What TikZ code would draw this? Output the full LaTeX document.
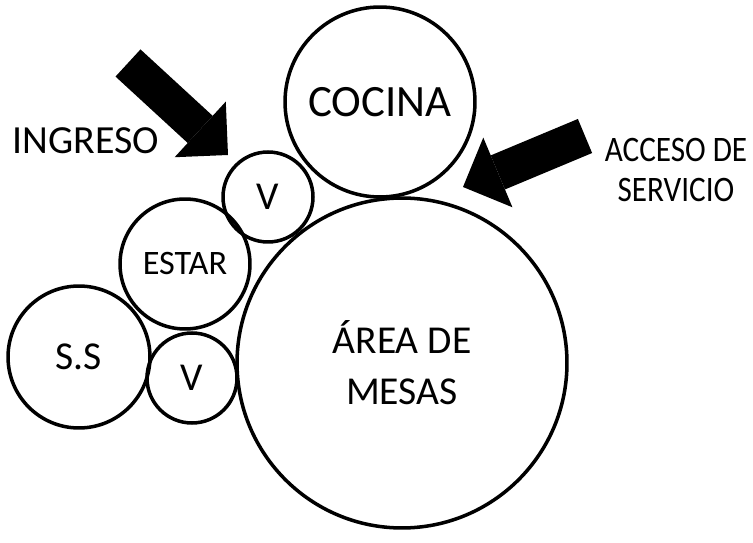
\documentclass[tikz,border=0pt]{standalone}
\usepackage{fontspec}
\setmainfont{Carlito}
\newfontfamily\narrowfont[FakeStretch=0.87]{Carlito}
\usetikzlibrary{arrows.meta}

\begin{document}
\begin{tikzpicture}[
    x=0.02cm, y=-0.02cm,
    zone/.style    ={draw, circle, line width=2pt, inner sep=0pt, align=center},
    tag/.style     ={align=center, inner sep=0pt},
    bigarrow/.style={line width=21pt,
                     -{Triangle[width=43pt, length=21.5pt, line width=0pt]}},
]
\useasboundingbox (0,0) rectangle (753,543);
\node[zone, minimum size=3.8cm, font=\fontsize{25.5pt}{30pt}\selectfont]
     (cocina) at (380,102) {COCINA};
\node[zone, minimum size=6.6cm, font=\fontsize{22.5pt}{29pt}\selectfont]
     (mesas) at (402,363) {ÁREA DE\\MESAS};
\node[zone, minimum size=1.8cm, font=\fontsize{22.5pt}{27pt}\selectfont]
     (vtop) at (268,197) {V};
\node[zone, minimum size=2.6cm, font=\fontsize{19.5pt}{22pt}\selectfont]
     (estar) at (185,264) {ESTAR};
\node[zone, minimum size=2.84cm, font=\fontsize{22.5pt}{27pt}\selectfont]
     (ss) at (79,357) {S.S};
\node[zone, minimum size=1.8cm, font=\fontsize{22.5pt}{27pt}\selectfont]
     (vbot) at (192,378) {V};
\node[tag, font=\fontsize{22.7pt}{26pt}\selectfont] (ingreso) at (86,141) {INGRESO};
\node[tag, font=\narrowfont\fontsize{20.4pt}{23.2pt}\selectfont]
     (acceso) at (676,170) {ACCESO DE\\SERVICIO};
\coordinate (ingtail) at (128,63);
\coordinate (ingtip)  at (228,155);
\coordinate (acctail) at (585,136);
\coordinate (acctip)  at (463,187);
\draw[bigarrow] (ingtail) -- (ingtip);
\draw[bigarrow] (acctail) -- (acctip);
\end{tikzpicture}
\end{document}
